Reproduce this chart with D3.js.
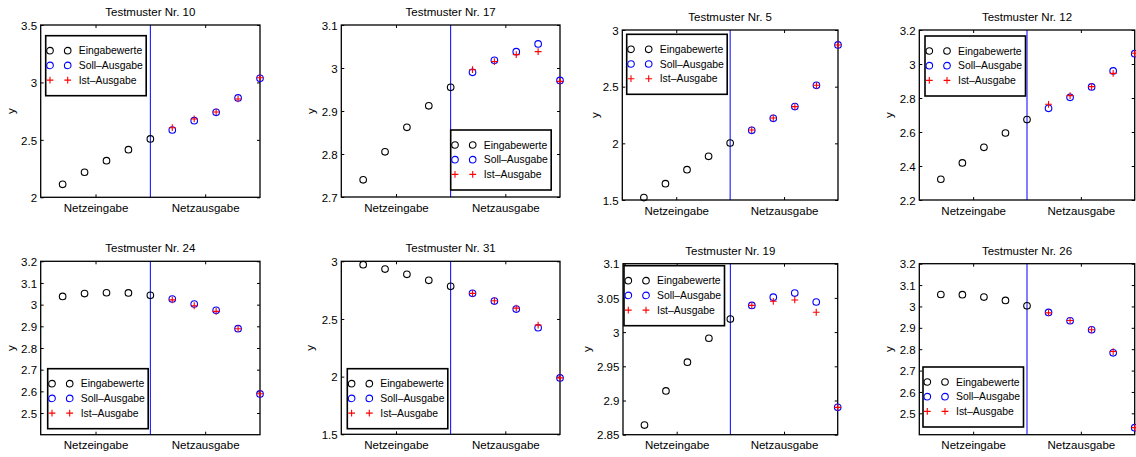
<!DOCTYPE html>
<html>
<head>
<meta charset="utf-8">
<script src="https://cdn.jsdelivr.net/npm/d3@7"></script>
<style>
  html, body { margin: 0; padding: 0; background: #fff; }
  svg { display: block; font-family: "Liberation Sans", Arial, Helvetica, sans-serif; }
</style>
</head>
<body>
<svg id="chart" width="1136" height="457"></svg>
<script>
// ---- data -----------------------------------------------------------------
const panelTitles = [
  "Testmuster Nr. 10", "Testmuster Nr. 17", "Testmuster Nr. 5", "Testmuster Nr. 12",
  "Testmuster Nr. 24", "Testmuster Nr. 31", "Testmuster Nr. 19", "Testmuster Nr. 26"
];

// sample positions along the x axis: five network inputs, five network outputs
const inputSteps  = [1, 2, 3, 4, 5];
const outputSteps = [6, 7, 8, 9, 10];
const splitAt = 5;

const xCategories = ["Netzeingabe", "Netzausgabe"];
const xCategoryAt = [2.5, 7.5];
const xDomain = [0, 10];

const legendLabels = ["Eingabewerte", "Soll\u2013Ausgabe", "Ist\u2013Ausgabe"];

const eingabewerte = [
  [2.113, 2.218, 2.319, 2.415, 2.508],
  [2.740, 2.805, 2.862, 2.912, 2.955],
  [1.521, 1.644, 1.768, 1.885, 2.003],
  [2.322, 2.418, 2.510, 2.594, 2.673],
  [3.038, 3.051, 3.055, 3.054, 3.043],
  [2.971, 2.933, 2.887, 2.835, 2.783],
  [2.864, 2.914, 2.956, 2.991, 3.019],
  [3.056, 3.055, 3.044, 3.028, 3.003]
];

const sollAusgabe = [
  [2.586, 2.667, 2.740, 2.865, 3.036],
  [2.990, 3.018, 3.038, 3.056, 2.971],
  [2.115, 2.221, 2.324, 2.512, 2.868],
  [2.739, 2.804, 2.865, 2.959, 3.061],
  [3.026, 3.003, 2.974, 2.889, 2.588],
  [2.722, 2.655, 2.586, 2.424, 1.989],
  [3.039, 3.051, 3.057, 3.044, 2.890],
  [2.972, 2.933, 2.891, 2.783, 2.433]
];

const istAusgabe = [
  [2.606, 2.682, 2.743, 2.856, 3.041],
  [2.996, 3.015, 3.031, 3.038, 2.969],
  [2.118, 2.224, 2.324, 2.512, 2.868],
  [2.763, 2.814, 2.867, 2.945, 3.063],
  [3.022, 2.995, 2.969, 2.889, 2.589],
  [2.722, 2.658, 2.594, 2.447, 1.989],
  [3.039, 3.045, 3.047, 3.029, 2.890],
  [2.970, 2.934, 2.891, 2.789, 2.433]
];

const yDomains = [
  [2, 3.5], [2.7, 3.1], [1.5, 3], [2.2, 3.2],
  [2.4, 3.2], [1.5, 3], [2.85, 3.1], [2.4, 3.2]
];

const yTickLabels = [
  ["2", "2.5", "3", "3.5"],
  ["2.7", "2.8", "2.9", "3", "3.1"],
  ["1.5", "2", "2.5", "3"],
  ["2.2", "2.4", "2.6", "2.8", "3", "3.2"],
  ["2.5", "2.6", "2.7", "2.8", "2.9", "3", "3.1", "3.2"],
  ["1.5", "2", "2.5", "3"],
  ["2.85", "2.9", "2.95", "3", "3.05", "3.1"],
  ["2.5", "2.6", "2.7", "2.8", "2.9", "3", "3.1", "3.2"]
];

// ---- layout (pixels) ------------------------------------------------------
const plotBoxes = [
  { l: 40.7,  t: 25,    r: 260,    b: 197.3 },
  { l: 341.3, t: 25,    r: 560,    b: 197 },
  { l: 622.3, t: 30,    r: 838,    b: 200 },
  { l: 919.3, t: 30,    r: 1134.7, b: 200 },
  { l: 40.7,  t: 261.3, r: 260,    b: 434.7 },
  { l: 341.3, t: 261.3, r: 560,    b: 434.3 },
  { l: 623,   t: 263.7, r: 837.7,  b: 434.7 },
  { l: 919.3, t: 263.7, r: 1134.7, b: 434.7 }
];
// legend box offset from the plot box's top-left corner
const legendOffsets = [
  [5, 10.7], [109.4, 105], [4.4, 4.3], [5.7, 6],
  [7, 107.4], [6, 107.4], [1, 2], [3.7, 103.3]
];
// horizontal distance of the y label centre from the left axis
const yLabelGaps = [27.4, 28, 25, 28, 27.4, 29, 34.3, 28];

const FONT = 11.5;
const LEGEND_FONT = 10.4;
const TICK = 3;
const BLUE = "#0000ff", RED = "#ff0000", BLACK = "#000";
const R_MARK = 3.3, PLUS = 3.4;

const svg = d3.select("#chart");

function circleMarks(g, pts, color) {
  g.selectAll(null).data(pts).join("circle")
    .attr("cx", d => d[0]).attr("cy", d => d[1]).attr("r", R_MARK)
    .attr("fill", "none").attr("stroke", color).attr("stroke-width", 1.1);
}
function plusMarks(g, pts, color) {
  const p = g.selectAll(null).data(pts).join("path")
    .attr("d", d => `M${d[0] - PLUS},${d[1]}H${d[0] + PLUS}M${d[0]},${d[1] - PLUS}V${d[1] + PLUS}`)
    .attr("fill", "none").attr("stroke", color).attr("stroke-width", 1.1);
}

function styleAxis(g, size) {
  g.attr("font-family", null).attr("font-size", null);
  g.select(".domain").remove();
  g.selectAll(".tick line").attr("stroke", BLACK).attr("stroke-width", 1);
  g.selectAll(".tick text").attr("fill", BLACK).style("font-size", size + "px");
}

panelTitles.forEach((title, i) => {
  const box = plotBoxes[i];
  const x = d3.scaleLinear().domain(xDomain).range([box.l, box.r]);
  const y = d3.scaleLinear().domain(yDomains[i]).range([box.b, box.t]);
  const tickVals = yTickLabels[i].map(Number);
  const g = svg.append("g");

  // y ticks, left (labelled) and right (unlabelled), pointing inward
  const yl = g.append("g").attr("transform", `translate(${box.l},0)`)
    .call(d3.axisLeft(y).tickValues(tickVals).tickSize(-TICK).tickPadding(3.6)
      .tickFormat((d, k) => yTickLabels[i][k]));
  styleAxis(yl, FONT);
  yl.selectAll(".tick text").attr("dy", "0.36em");

  const yr = g.append("g").attr("transform", `translate(${box.r},0)`)
    .call(d3.axisRight(y).tickValues(tickVals).tickSize(-TICK).tickFormat(""));
  styleAxis(yr, FONT);

  // category ticks on bottom (labelled) and top
  const xb = g.append("g").attr("transform", `translate(0,${box.b})`)
    .call(d3.axisBottom(x).tickValues(xCategoryAt).tickSize(-TICK).tickPadding(6.5)
      .tickFormat((d, k) => xCategories[k]));
  styleAxis(xb, FONT);

  const xt = g.append("g").attr("transform", `translate(0,${box.t})`)
    .call(d3.axisTop(x).tickValues(xCategoryAt).tickSize(-TICK).tickFormat(""));
  styleAxis(xt, FONT);

  // input / output separator
  g.append("line")
    .attr("x1", x(splitAt)).attr("x2", x(splitAt))
    .attr("y1", box.t).attr("y2", box.b)
    .attr("stroke", BLUE).attr("stroke-width", 1);

  // plot frame
  g.append("rect")
    .attr("x", box.l).attr("y", box.t)
    .attr("width", box.r - box.l).attr("height", box.b - box.t)
    .attr("fill", "none").attr("stroke", BLACK).attr("stroke-width", 1.3);

  // title and y label
  g.append("text")
    .attr("x", (box.l + box.r) / 2).attr("y", box.t - 9)
    .attr("text-anchor", "middle").style("font-size", FONT + "px")
    .attr("fill", BLACK).text(title);

  g.append("text")
    .attr("transform", `translate(${box.l - yLabelGaps[i] + 1.8},${(box.t + box.b) / 2}) rotate(-90)`)
    .attr("text-anchor", "middle").style("font-size", FONT + "px")
    .attr("fill", BLACK).text("y");

  // series
  const marks = g.append("g");
  circleMarks(marks, eingabewerte[i].map((v, k) => [x(inputSteps[k]), y(v)]), BLACK);
  circleMarks(marks, sollAusgabe[i].map((v, k) => [x(outputSteps[k]), y(v)]), BLUE);
  plusMarks(marks, istAusgabe[i].map((v, k) => [x(outputSteps[k]), y(v)]), RED);

  // legend
  const lx = box.l + legendOffsets[i][0], ly = box.t + legendOffsets[i][1];
  const lg = g.append("g").attr("transform", `translate(${lx},${ly})`);
  lg.append("rect").attr("width", 100.5).attr("height", 60)
    .attr("fill", "#fff").attr("stroke", BLACK).attr("stroke-width", 1.6);
  const rowY = [15, 29.7, 44.4];
  legendLabels.forEach((lab, k) => {
    const row = lg.append("g").attr("transform", `translate(0,${rowY[k]})`);
    const pts = [[4.3, 0], [22, 0]];
    if (k === 0) circleMarks(row, pts, BLACK);
    else if (k === 1) circleMarks(row, pts, BLUE);
    else plusMarks(row, pts, RED);
    row.append("text").attr("x", 33).attr("y", 0).attr("dy", "0.36em")
      .style("font-size", LEGEND_FONT + "px").attr("fill", BLACK).text(lab);
  });
});
</script>
</body>
</html>
